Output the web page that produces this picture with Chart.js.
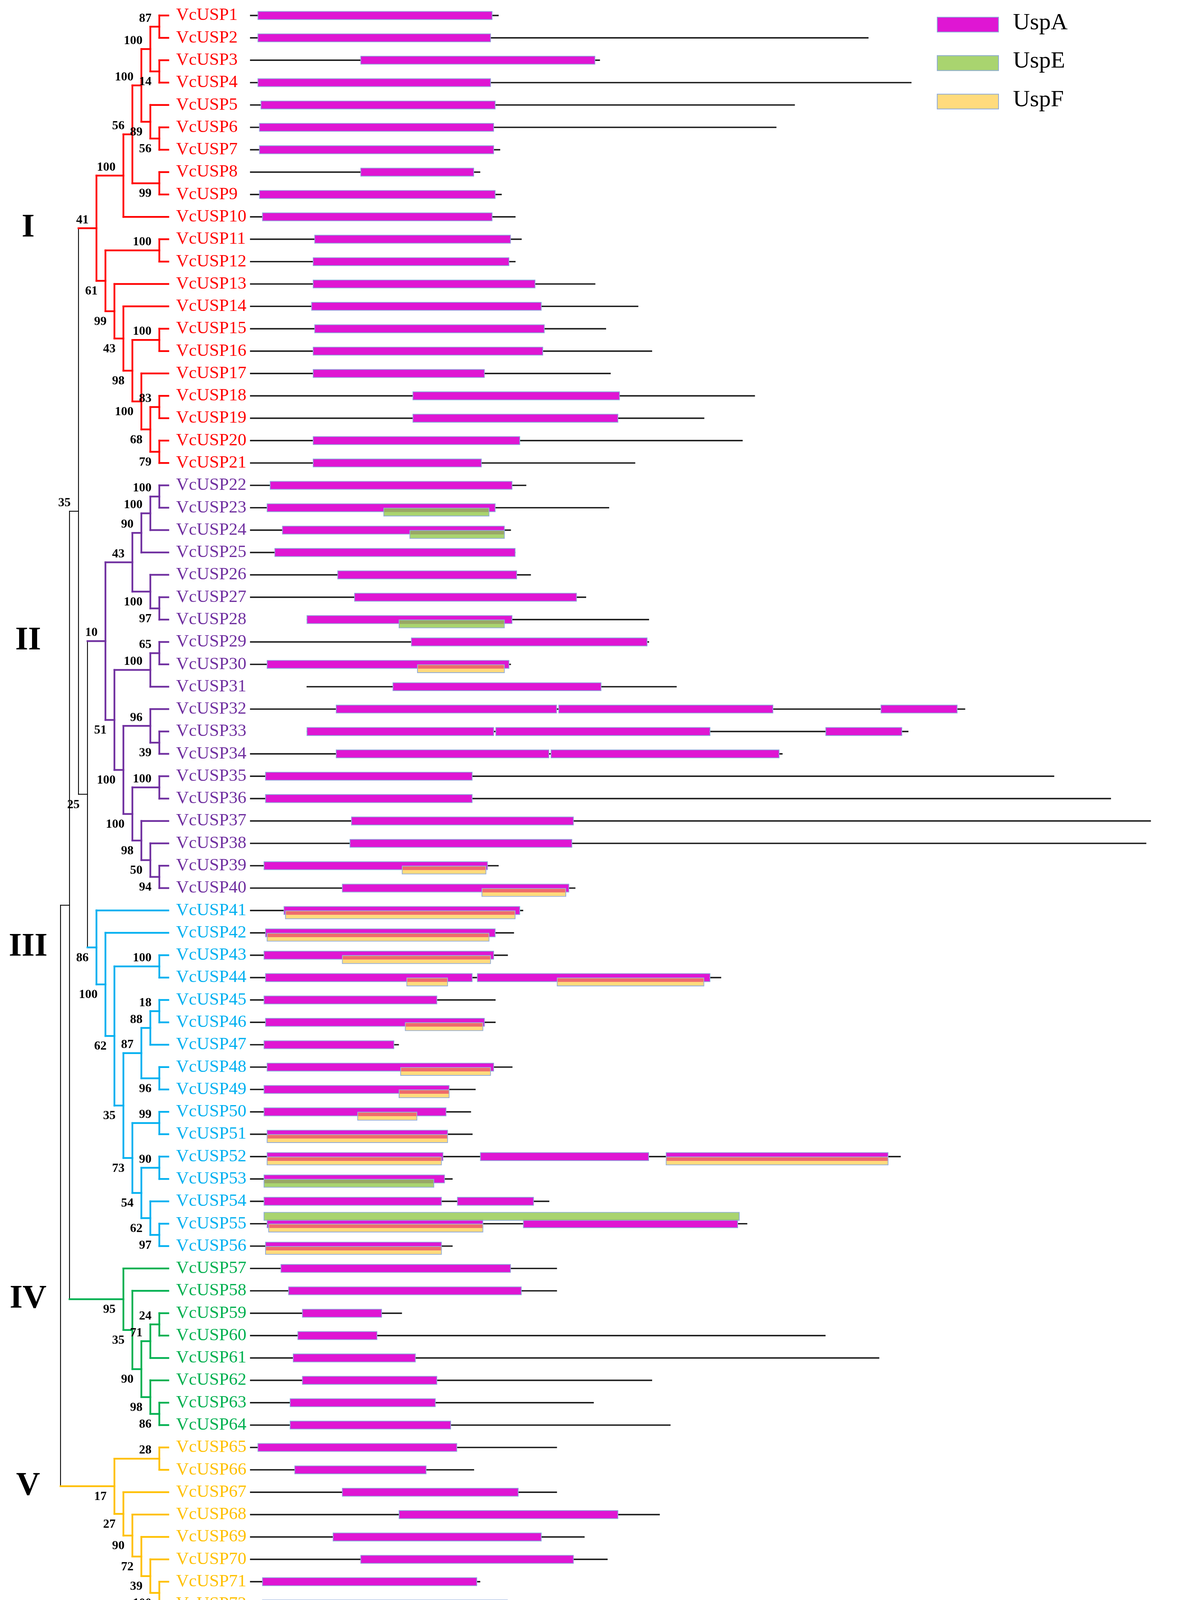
<!DOCTYPE html>
<html>
<head>
<meta charset="utf-8">
<title>VcUSP</title>
<script src="https://cdn.jsdelivr.net/npm/chart.js@4.4.1/dist/chart.umd.min.js"></script>
<style>
  html, body { margin: 0; padding: 0; background: #ffffff; }
  #contenedor { width: 3055px; height: 4378px; position: relative; }
</style>
</head>
<body>
<div id="contenedor"><canvas id="grafico"></canvas></div>
<script>
// nombres de los genes, una fila por gen
const genes = Array.from({ length: 72 }, (_, i) => "VcUSP" + (i + 1));

// longitud de cada proteina (aa) y donde empieza la linea
const proteinLength = [
  162, 403, 228, 431, 355, 343, 163, 150, 164, 173,
  177, 173, 225, 253, 232, 262, 235, 329, 296, 321,
  251, 180, 234, 170, 173, 183, 219, 260, 260, 170,
  278, 466, 429, 347, 524, 561, 587, 584, 162, 212,
  178, 172, 168, 307, 160, 160, 97, 171, 147, 144,
  145, 424, 132, 195, 324, 132, 200, 200, 99, 375,
  410, 262, 224, 274, 200, 146, 200, 267, 218, 233,
  150, 201
];
const lineStart = [
  0, 0, 0, 0, 0, 0, 0, 0, 0, 0,
  0, 0, 0, 0, 0, 0, 0, 0, 0, 0,
  0, 0, 0, 0, 0, 0, 0, 37, 0, 0,
  37, 0, 37, 0, 0, 0, 0, 0, 0, 0,
  0, 0, 0, 0, 0, 0, 0, 0, 0, 0,
  0, 0, 0, 0, 0, 0, 0, 0, 0, 0,
  0, 0, 0, 0, 0, 0, 0, 0, 0, 0,
  0, 0
];

// dominios: [gen, inicio, fin]
const uspA = [
  [1, 5, 158], [2, 5, 157], [3, 72, 225], [4, 5, 157], [5, 7, 160], [6, 6, 159], [7, 6, 159], [8, 72, 146], [9, 6, 160], [10, 8, 158],
  [11, 42, 170], [12, 41, 169], [13, 41, 186], [14, 40, 190], [15, 42, 192], [16, 41, 191], [17, 41, 153], [18, 106, 241], [19, 106, 240], [20, 41, 176],
  [21, 41, 151], [22, 13, 171], [23, 11, 160], [24, 21, 166], [25, 16, 173], [26, 57, 174], [27, 68, 213], [28, 37, 171], [29, 105, 259], [30, 11, 169],
  [31, 93, 229], [32, 56, 200], [32, 201, 341], [32, 411, 461], [33, 37, 159], [33, 160, 300], [33, 375, 425], [34, 56, 195], [34, 196, 345], [35, 10, 145],
  [36, 10, 145], [37, 66, 211], [38, 65, 210], [39, 9, 155], [40, 60, 208], [41, 22, 176], [42, 10, 160], [43, 9, 159], [44, 10, 145], [44, 148, 300],
  [45, 9, 122], [46, 10, 153], [47, 9, 94], [48, 11, 159], [49, 9, 130], [50, 9, 128], [51, 11, 129], [52, 11, 126], [52, 150, 260], [52, 271, 416],
  [53, 9, 127], [54, 9, 125], [54, 135, 185], [55, 11, 152], [55, 178, 318], [56, 10, 125], [57, 20, 170], [58, 25, 177], [59, 34, 86], [60, 31, 83],
  [61, 28, 108], [62, 34, 122], [63, 26, 121], [64, 26, 131], [65, 5, 135], [66, 29, 115], [67, 60, 175], [68, 97, 240], [69, 54, 190], [70, 72, 211],
  [71, 8, 148], [72, 8, 168]
];
const uspE = [[23, 87, 156], [24, 104, 166], [28, 97, 166], [53, 9, 120], [55, 9, 319]];
const uspF = [
  [30, 109, 166], [39, 99, 154], [40, 151, 206], [41, 23, 173], [42, 11, 156], [43, 60, 157],
  [44, 102, 129], [44, 200, 296], [46, 101, 152], [48, 98, 157], [49, 97, 130], [50, 70, 109],
  [51, 11, 129], [52, 11, 125], [52, 271, 416], [55, 12, 152], [56, 10, 125]
];
const xTicks = [0, 100, 200, 300, 400, 500, 600];

// arbol: [bootstrap, hijo de arriba, hijo de abajo], las hojas son el numero del gen
const clades = ["I", "II", "III", "IV", "V"];
const cladeColors = ["#ff0000", "#7030a0", "#00b0f0", "#00b050", "#ffc000"];
const treeI = [41,
  [100, [56, [100, [100, [87, 1, 2], [14, 3, 4]], [89, 5, [56, 6, 7]]], [99, 8, 9]], 10],
  [61, [100, 11, 12], [99, 13, [43, 14, [98, [100, 15, 16], [100, 17, [68, [83, 18, 19], [79, 20, 21]]]]]]]];
const treeII = [10,
  [43, [90, [100, [100, 22, 23], 24], 25], [100, 26, [97, 27, 28]]],
  [51, [100, [65, 29, 30], 31], [100, [96, 32, [39, 33, 34]], [100, [100, 35, 36], [98, 37, [50, 38, [94, 39, 40]]]]]]];
const treeIII = [86, 41, [100, 42, [62, [100, 43, 44],
  [35, [87, [88, [18, 45, 46], 47], [96, 48, 49]], [73, [99, 50, 51], [54, [90, 52, 53], [62, 54, [97, 55, 56]]]]]]]];
const treeIV = [95, 57, [35, 58, [90, [71, [24, 59, 60], 61], [98, 62, [86, 63, 64]]]]];
const treeV = [17, [28, 65, 66], [27, 67, [90, 68, [72, 69, [39, 70, [100, 71, 72]]]]]];
const cladeTrees = [treeI, treeII, treeIII, treeIV, treeV];
const backbone = [null, [null, [35, "I", [25, "II", "III"]], "IV"], "V"];

// color de cada hoja segun su clado
const leafColor = [];
function marcar(n, color) {
  if (typeof n === "number") {
    leafColor[n - 1] = color;
  } else {
    marcar(n[1], color);
    marcar(n[2], color);
  }
}
cladeTrees.forEach((t, k) => marcar(t, cladeColors[k]));

const BAR = 22;
const BAJO = 0.192;   // dominio secundario un poco mas abajo
const ARRIBA = -0.33; // o arriba si ya hay UspF en la fila
const Y_MIN = -0.5;
const Y_MAX = 71.9;

function puntos(lista, despl) {
  return lista.map(d => ({ y: d[0] - 1 + despl(d[0]), x: [d[1], d[2]], gen: d[0] }));
}
const genesF = uspF.map(d => d[0]);

const dataLinea = proteinLength.map((len, i) => ({ y: i, x: [lineStart[i], len], gen: i + 1 }));

const arbolPlugin = {
  id: "arbol",
  afterDraw(chart) {
    const ctx = chart.ctx;
    const ys = chart.scales.y;
    const hojaX = ys.left - 20;
    const paso = 23;
    const numerales = [];

    function armar(n, color) {
      if (typeof n === "number") {
        return { x: hojaX, y: ys.getPixelForValue(n - 1), h: 0, color: color };
      }
      if (typeof n === "string") {
        const k = clades.indexOf(n);
        const r = armar(cladeTrees[k], cladeColors[k]);
        numerales.push({ texto: n, y: r.y });
        return r;
      }
      const a = armar(n[1], color);
      const b = armar(n[2], color);
      const h = Math.max(a.h, b.h) + 1;
      return { bs: n[0], kids: [a, b], h: h, x: hojaX - h * paso, y: (a.y + b.y) / 2, color: color };
    }
    const raiz = armar(backbone, null);

    const etiquetas = [];
    function linea(x1, y1, x2, y2, color) {
      ctx.strokeStyle = color || "#000000";
      ctx.lineWidth = color ? 4.5 : 2.2;
      ctx.beginPath();
      ctx.moveTo(x1, y1);
      ctx.lineTo(x2, y2);
      ctx.stroke();
    }
    function dibujar(n, arriba) {
      if (!n.kids) return;
      const a = n.kids[0], b = n.kids[1];
      linea(n.x, a.y, n.x, b.y, n.color);
      n.kids.forEach(k => linea(n.x, k.y, k.x, k.y, k.color));
      if (n.bs != null) {
        etiquetas.push({ texto: String(n.bs), x: n.x - 20, y: arriba ? n.y - 21 : n.y + 27 });
      }
      dibujar(a, true);
      dibujar(b, false);
    }
    ctx.save();
    ctx.lineCap = "square";
    dibujar(raiz, true);

    ctx.fillStyle = "#000000";
    ctx.font = 'bold 32px "Liberation Serif"';
    ctx.textAlign = "right";
    ctx.textBaseline = "middle";
    etiquetas.forEach(e => ctx.fillText(e.texto, e.x, e.y));

    ctx.font = 'bold 85px "Liberation Serif"';
    ctx.textAlign = "center";
    numerales.forEach(r => ctx.fillText(r.texto, 72, r.y));
    ctx.restore();
  }
};

// franja donde el dominio secundario tapa al UspA
const solapePlugin = {
  id: "solape",
  afterDatasetsDraw(chart) {
    const ctx = chart.ctx;
    const caja = el => {
      const p = el.getProps(["x", "y", "base", "height"], true);
      return { l: Math.min(p.x, p.base), r: Math.max(p.x, p.base), t: p.y - p.height / 2, b: p.y + p.height / 2 };
    };
    const metaA = chart.getDatasetMeta(1);
    const cajasA = metaA.data.map((el, j) => ({ gen: chart.data.datasets[1].data[j].gen, c: caja(el) }));
    [2, 3].forEach(di => {
      const ds = chart.data.datasets[di];
      chart.getDatasetMeta(di).data.forEach((el, j) => {
        const s = caja(el);
        const gen = ds.data[j].gen;
        cajasA.filter(a => a.gen === gen).forEach(a => {
          const l = Math.max(s.l + 2, a.c.l);
          const r = Math.min(s.r - 2, a.c.r);
          const t = Math.max(s.t + 2, a.c.t);
          const b = Math.min(s.b - 2, a.c.b);
          if (r > l && b > t) {
            ctx.fillStyle = ds.solapeColor;
            ctx.fillRect(l, t, r - l, b - t);
          }
        });
      });
    });
  }
};

const leyendaPlugin = {
  id: "leyenda",
  afterDraw(chart) {
    const ctx = chart.ctx;
    const area = chart.chartArea;
    const x0 = area.right - 599;
    ctx.save();
    [1, 2, 3].forEach((di, k) => {
      const ds = chart.data.datasets[di];
      const yc = area.top + 52 + k * 98.5;
      ctx.fillStyle = ds.backgroundColor;
      ctx.fillRect(x0, yc - 20, 159, 40);
      ctx.strokeStyle = ds.borderColor;
      ctx.lineWidth = 2;
      ctx.strokeRect(x0 + 1, yc - 19, 157, 38);
      ctx.fillStyle = "#000000";
      ctx.font = '60px "Liberation Serif"';
      ctx.textAlign = "left";
      ctx.textBaseline = "middle";
      ctx.fillText(ds.label, x0 + 195, yc - 4);
    });
    ctx.restore();
  }
};

new Chart(document.getElementById("grafico"), {
  type: "bar",
  data: {
    datasets: [
      {
        label: "Protein",
        data: dataLinea,
        backgroundColor: "#1c1c1c",
        borderWidth: 0,
        barThickness: 3,
        grouped: false,
        order: 3
      },
      {
        label: "UspA",
        data: puntos(uspA, () => 0),
        backgroundColor: "#df16d3",
        borderColor: "#8eaadb",
        borderWidth: 2,
        borderSkipped: false,
        barThickness: BAR,
        grouped: false,
        order: 2
      },
      {
        label: "UspE",
        data: puntos(uspE, g => (genesF.includes(g) ? ARRIBA : BAJO)),
        backgroundColor: "#a9d46f",
        borderColor: "#8eaadb",
        borderWidth: 2,
        borderSkipped: false,
        barThickness: BAR,
        grouped: false,
        order: 1,
        solapeColor: "#99a766"
      },
      {
        label: "UspF",
        data: puntos(uspF, () => BAJO),
        backgroundColor: "#ffdb7d",
        borderColor: "#8eaadb",
        borderWidth: 2,
        borderSkipped: false,
        barThickness: BAR,
        grouped: false,
        order: 1,
        solapeColor: "#ee6c6c"
      }
    ]
  },
  options: {
    indexAxis: "y",
    responsive: true,
    maintainAspectRatio: false,
    animation: false,
    devicePixelRatio: 1,
    layout: { padding: { left: 451, right: 57, top: 11, bottom: 0 } },
    plugins: {
      legend: { display: false },
      tooltip: { enabled: false }
    },
    scales: {
      y: {
        type: "linear",
        min: Y_MIN,
        max: Y_MAX,
        offset: false,
        reverse: true,
        afterBuildTicks: s => {
          s.ticks = genes.map((g, i) => ({ value: i }));
          s.min = Y_MIN;
          s.max = Y_MAX;
        },
        afterFit: s => { s.width = 189; s.paddingTop = 0; s.paddingBottom = 0; },
        grid: { display: false, offset: false },
        border: { display: false },
        ticks: {
          autoSkip: false,
          crossAlign: "far",
          callback: v => genes[v],
          color: c => leafColor[c.tick.value],
          font: { family: "Liberation Serif", size: 45 }
        }
      },
      x: {
        type: "linear",
        position: "bottom",
        min: 0,
        max: 600,
        afterBuildTicks: s => { s.ticks = xTicks.map(v => ({ value: v })); },
        afterFit: s => { s.height = 220; s.paddingLeft = 0; s.paddingRight = 0; },
        grid: { drawOnChartArea: false, drawTicks: true, tickLength: 45, tickColor: "#000000", tickWidth: 1.5 },
        border: { display: true, color: "#000000", width: 4 },
        ticks: {
          color: "#000000",
          padding: 8,
          font: { family: "Liberation Serif", size: 52 }
        },
        title: {
          display: true,
          text: "Protein length (aa)",
          align: "end",
          color: "#000000",
          padding: { top: 24, bottom: 24 },
          font: { family: "Liberation Serif", size: 54 }
        }
      }
    }
  },
  plugins: [arbolPlugin, solapePlugin, leyendaPlugin]
});
</script>
</body>
</html>
